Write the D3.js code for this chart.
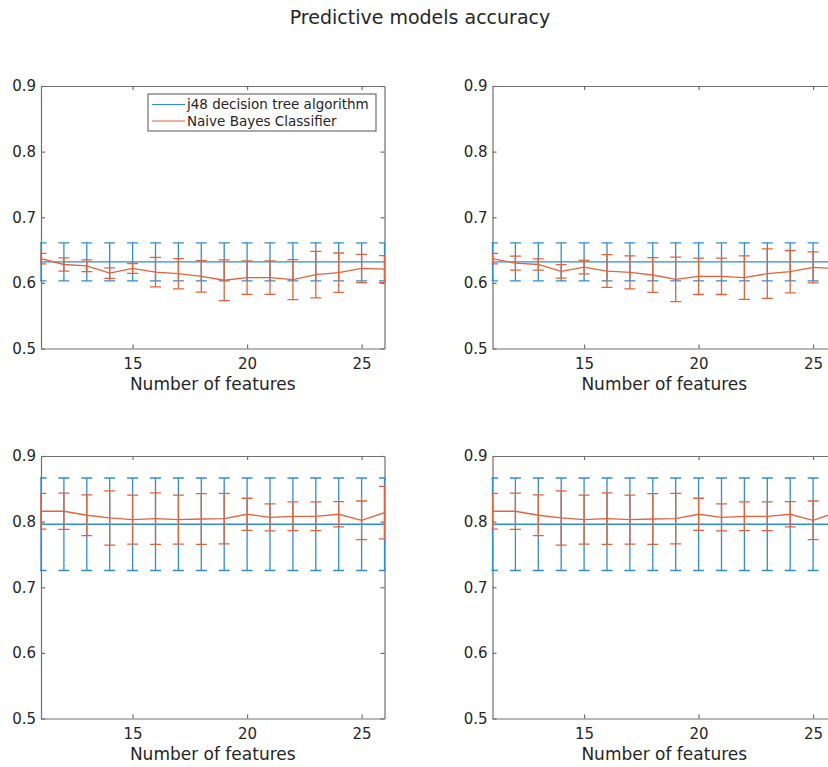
<!DOCTYPE html>
<html>
<head>
<meta charset="utf-8">
<script src="https://cdnjs.cloudflare.com/ajax/libs/d3/7.8.5/d3.min.js"></script>
<style>
body { margin: 0; background: #fff; }
svg { display: block; font-family: "DejaVu Sans", Verdana, sans-serif; }
</style>
</head>
<body>
<svg width="828" height="767"></svg>
<script>
// number of features on the x axis
var features = [11, 12, 13, 14, 15, 16, 17, 18, 19, 20, 21, 22, 23, 24, 25, 26];

// top row: j48 (constant) and naive bayes, mean and error half-width
var j48TopMean = [0.632, 0.632, 0.632, 0.632, 0.632, 0.632, 0.632, 0.632, 0.632, 0.632, 0.632, 0.632, 0.632, 0.632, 0.632, 0.632];
var j48TopErr  = [0.029, 0.029, 0.029, 0.029, 0.029, 0.029, 0.029, 0.029, 0.029, 0.029, 0.029, 0.029, 0.029, 0.029, 0.029, 0.029];
var nbTopLeftMean = [0.637, 0.628, 0.626, 0.615, 0.622, 0.6165, 0.614, 0.610, 0.604, 0.608, 0.608, 0.605, 0.6125, 0.6155, 0.622, 0.621];
var nbTopLeftErr  = [0.008, 0.010, 0.009, 0.008, 0.0075, 0.0225, 0.023, 0.024, 0.031, 0.0255, 0.0255, 0.0305, 0.0355, 0.030, 0.0215, 0.0205];
var nbTopRightMean = [0.637, 0.630, 0.628, 0.6176, 0.624, 0.618, 0.616, 0.612, 0.6053, 0.610, 0.610, 0.608, 0.614, 0.617, 0.6237, 0.622];
var nbTopRightErr  = [0.008, 0.0107, 0.0085, 0.0103, 0.0102, 0.025, 0.0252, 0.0265, 0.0338, 0.0277, 0.0277, 0.0331, 0.0377, 0.0323, 0.0236, 0.023];

// bottom row (both panels show the same values)
var j48BottomMean = [0.796, 0.796, 0.796, 0.796, 0.796, 0.796, 0.796, 0.796, 0.796, 0.796, 0.796, 0.796, 0.796, 0.796, 0.796, 0.796];
var j48BottomErr  = [0.0705, 0.0705, 0.0705, 0.0705, 0.0705, 0.0705, 0.0705, 0.0705, 0.0705, 0.0705, 0.0705, 0.0705, 0.0705, 0.0705, 0.0705, 0.0705];
var nbBottomMean = [0.8158, 0.8158, 0.8097, 0.8056, 0.8031, 0.8046, 0.8031, 0.804, 0.8046, 0.8112, 0.8066, 0.8081, 0.8081, 0.8112, 0.802, 0.8138];
var nbBottomErr  = [0.0272, 0.0277, 0.031, 0.0414, 0.0373, 0.0393, 0.0373, 0.0386, 0.0386, 0.0244, 0.0206, 0.0219, 0.0219, 0.0193, 0.0294, 0.040];

var xTicks = [15, 20, 25];
var yTicks = [0.5, 0.6, 0.7, 0.8, 0.9];
var seriesNames = ["j48 decision tree algorithm", "Naive Bayes Classifier"];

var blue = "#2f8dd0", orange = "#e2643a";
var axisColor = "#707070", textColor = "#262626";

var svg = d3.select("svg");

// Title
svg.append("text")
    .attr("x", 420)
    .attr("y", 24)
    .attr("text-anchor", "middle")
    .style("font-size", "19px")
    .style("fill", textColor)
    .text("Predictive models accuracy");

function drawErrorbar(g, x, y, means, errs, color) {
    var pts = features.map(function(f, i) { return {x: f, m: means[i], e: errs[i]}; });
    var line = d3.line()
        .x(function(d) { return x(d.x); })
        .y(function(d) { return y(d.m); });

    g.append("path")
        .datum(pts)
        .attr("d", line)
        .attr("fill", "none")
        .attr("stroke", color)
        .attr("stroke-width", 1.3);

    var bars = g.append("g").selectAll("g")
        .data(pts)
        .enter().append("g")
        .attr("stroke", color)
        .attr("stroke-width", 1.3);

    // vertical
    bars.append("line")
        .attr("x1", function(d) { return x(d.x); })
        .attr("x2", function(d) { return x(d.x); })
        .attr("y1", function(d) { return y(d.m - d.e); })
        .attr("y2", function(d) { return y(d.m + d.e); });
    // caps
    [-1, 1].forEach(function(s) {
        bars.append("line")
            .attr("x1", function(d) { return x(d.x) - 5.5; })
            .attr("x2", function(d) { return x(d.x) + 5.5; })
            .attr("y1", function(d) { return y(d.m + s * d.e); })
            .attr("y2", function(d) { return y(d.m + s * d.e); });
    });
}

function drawPanel(left, top, j48Mean, j48Err, nbMean, nbErr, withLegend, id) {
    var w = 343.5, h = 262.5;
    var g = svg.append("g").attr("transform", "translate(" + left + "," + top + ")");

    var x = d3.scaleLinear().domain([11, 26]).range([0, w]);
    var y = d3.scaleLinear().domain([0.5, 0.9]).range([h, 0]);

    svg.append("clipPath").attr("id", id)
        .append("rect")
        .attr("x", -1).attr("y", -1)
        .attr("width", w + 2).attr("height", h + 2);

    // X-Axis (bottom + top)
    g.append("g")
        .attr("transform", "translate(0," + h + ")")
        .call(d3.axisBottom(x).tickValues(xTicks).tickSize(-4).tickSizeOuter(0).tickPadding(10));
    g.append("g")
        .call(d3.axisTop(x).tickValues(xTicks).tickSize(-4).tickSizeOuter(0).tickFormat(""));

    // Y-Axis (left + right)
    g.append("g")
        .call(d3.axisLeft(y).tickValues(yTicks).tickSize(-4).tickSizeOuter(0).tickPadding(5).tickFormat(d3.format(".1f")));
    g.append("g")
        .attr("transform", "translate(" + w + ",0)")
        .call(d3.axisRight(y).tickValues(yTicks).tickSize(-4).tickSizeOuter(0).tickFormat(""));

    g.selectAll(".domain, .tick line").attr("stroke", axisColor).attr("stroke-width", 1.2);
    g.selectAll(".tick text")
        .attr("fill", textColor)
        .style("font-size", "15px")
        .style("font-family", "DejaVu Sans, Verdana, sans-serif");

    // X Axis Label
    g.append("text")
        .attr("x", w / 2)
        .attr("y", h + 41)
        .attr("text-anchor", "middle")
        .style("font-size", "17px")
        .style("fill", textColor)
        .text("Number of features");

    var plot = g.append("g").attr("clip-path", "url(#" + id + ")");
    drawErrorbar(plot, x, y, j48Mean, j48Err, blue);
    drawErrorbar(plot, x, y, nbMean, nbErr, orange);

    if (withLegend) {
        var lg = g.append("g").attr("transform", "translate(107,8)");
        lg.append("rect")
            .attr("width", 228).attr("height", 37)
            .attr("fill", "#fff")
            .attr("stroke", axisColor)
            .attr("stroke-width", 1.2);
        seriesNames.forEach(function(name, i) {
            var ly = 10.5 + i * 16.5;
            lg.append("line")
                .attr("x1", 4).attr("x2", 37)
                .attr("y1", ly).attr("y2", ly)
                .attr("stroke", i == 0 ? blue : orange)
                .attr("stroke-width", 1.2);
            lg.append("text")
                .attr("x", 39)
                .attr("y", ly)
                .attr("dy", "0.35em")
                .style("font-size", "13.5px")
                .style("fill", textColor)
                .text(name);
        });
    }
}

drawPanel(41, 86, j48TopMean, j48TopErr, nbTopLeftMean, nbTopLeftErr, true, "clipA");
drawPanel(492.5, 86, j48TopMean, j48TopErr, nbTopRightMean, nbTopRightErr, false, "clipB");
drawPanel(41, 456, j48BottomMean, j48BottomErr, nbBottomMean, nbBottomErr, false, "clipC");
drawPanel(492.5, 456, j48BottomMean, j48BottomErr, nbBottomMean, nbBottomErr, false, "clipD");
</script>
</body>
</html>
